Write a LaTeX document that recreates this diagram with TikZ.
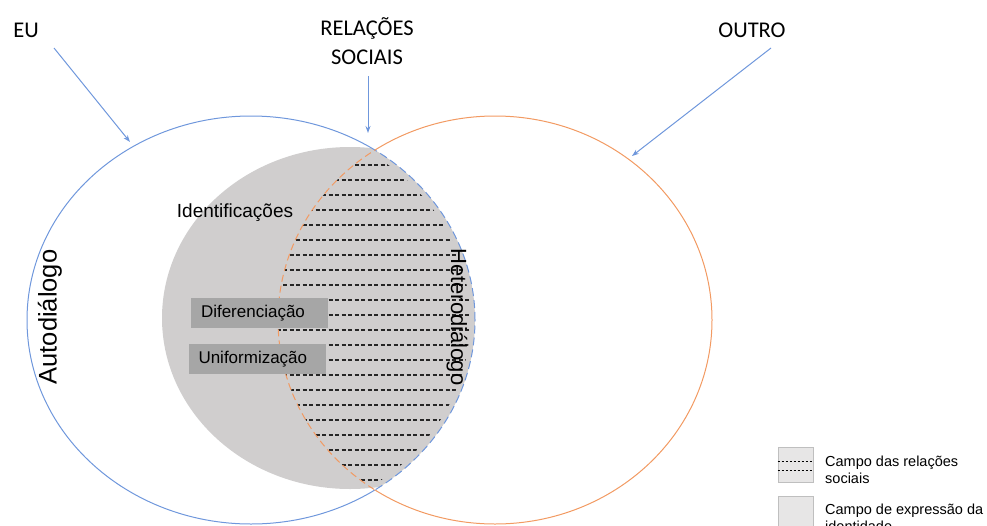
\documentclass[tikz,border=0pt]{standalone}
\usepackage{fontspec}
\setmainfont{Liberation Sans}
\newfontfamily\calibfont{Carlito}
\usetikzlibrary{arrows.meta}
\definecolor{eublue}{HTML}{6F97DC}
\definecolor{outroorange}{HTML}{F29A62}
\definecolor{idgray}{HTML}{D0CECE}
\definecolor{boxgray}{HTML}{A6A6A6}
\definecolor{leggray}{HTML}{E7E6E6}
\definecolor{legline}{HTML}{BFBFBF}

\begin{document}
\begin{tikzpicture}[x=1pt, y=-1pt, every node/.style={inner sep=0pt},
    title/.style={font=\calibfont\fontsize{22.5}{29.5}\selectfont, align=center},
    dialogo/.style={font=\fontsize{#1}{#1}\selectfont},
    field/.style={fill=boxgray, minimum height=30pt, text width=117pt, inner xsep=10pt, align=left, font=\fontsize{17}{20}\selectfont},
    legtext/.style={anchor=west, align=left, font=\fontsize{14.5}{16.5}\selectfont},
    legbox/.style={draw=legline, fill=leggray, line width=0.8pt},
    pointer/.style={draw=eublue, line width=1pt, -{Stealth[length=7pt, width=5pt]}},
    euring/.style={draw=eublue, line width=1pt},
    outroring/.style={draw=outroorange, line width=1pt},
    hatch/.style={draw=black!85, line width=1.1pt, dash pattern=on 4pt off 2.5pt}]
        \useasboundingbox (0,0) rectangle (987,525);

        \begin{scope}
            \clip (251,320) ellipse [x radius=224pt, y radius=204pt];
            \fill[idgray] (350,318) ellipse [x radius=188pt, y radius=171pt];
        \end{scope}

        \begin{scope}
            \clip (495,320) ellipse [x radius=217pt, y radius=204pt];
            \clip (251,320) ellipse [x radius=219pt, y radius=199pt];
            \foreach \y in {165,180,...,480}
                \draw[hatch] (270,\y) -- (480,\y);
        \end{scope}

        \begin{scope}[even odd rule]
            \clip (0,0) rectangle (987,525) (495,320) ellipse [x radius=217pt, y radius=204pt];
            \draw[euring] (251,320) ellipse [x radius=224pt, y radius=204pt];
        \end{scope}
        \begin{scope}
            \clip (495,320) ellipse [x radius=217pt, y radius=204pt];
            \draw[euring, dash pattern=on 8pt off 4pt] (251,320) ellipse [x radius=224pt, y radius=204pt];
        \end{scope}
        \begin{scope}[even odd rule]
            \clip (0,0) rectangle (987,525) (251,320) ellipse [x radius=224pt, y radius=204pt];
            \draw[outroring] (495,320) ellipse [x radius=217pt, y radius=204pt];
        \end{scope}
        \begin{scope}
            \clip (251,320) ellipse [x radius=224pt, y radius=204pt];
            \draw[outroring, dash pattern=on 7pt off 4pt] (495,320) ellipse [x radius=217pt, y radius=204pt];
        \end{scope}

        \node[title] (eu) at (26,30) {EU};
        \node[title] (rel) at (367,41) {RELAÇÕES\\SOCIAIS};
        \node[title] (outro) at (752,30) {OUTRO};

        \coordinate (euS) at (54,48);
        \coordinate (euT) at (130,142);
        \coordinate (relS) at (368,76);
        \coordinate (relT) at (368,133);
        \coordinate (outroS) at (771,48);
        \coordinate (outroT) at (632,156);
        \draw[pointer] (euS) -- (euT);
        \draw[pointer] (relS) -- (relT);
        \draw[pointer] (outroS) -- (outroT);

        \node[dialogo=25.5, rotate=90] (auto) at (50,317) {Autodiálogo};
        \node[dialogo=22, rotate=-90] (hetero) at (457,317) {Heterodiálogo};

        \node[font=\fontsize{19}{22}\selectfont] (ident) at (235,213) {Identificações};
        \node[field] (dif) at (259.5,313) {Diferenciação};
        \node[field] (unif) at (257,359) {Uniformização};

        \node[legbox, minimum width=35pt, minimum height=35pt] (leg1) at (795.5,464.5) {};
        \draw[black, line width=0.7pt, dash pattern=on 2.5pt off 1.5pt] (leg1.west |- 0,461) -- (leg1.east |- 0,461);
        \draw[black, line width=0.7pt, dash pattern=on 2.5pt off 1.5pt] (leg1.west |- 0,470) -- (leg1.east |- 0,470);
        \node[legbox, minimum width=35pt, minimum height=35pt] (leg2) at (795.5,513.5) {};
        \node[legtext] (leg1txt) at (825,470) {Campo das relações\\sociais};
        \node[legtext] (leg2txt) at (825,518) {Campo de expressão da\\identidade};
    \end{tikzpicture}
\end{document}
